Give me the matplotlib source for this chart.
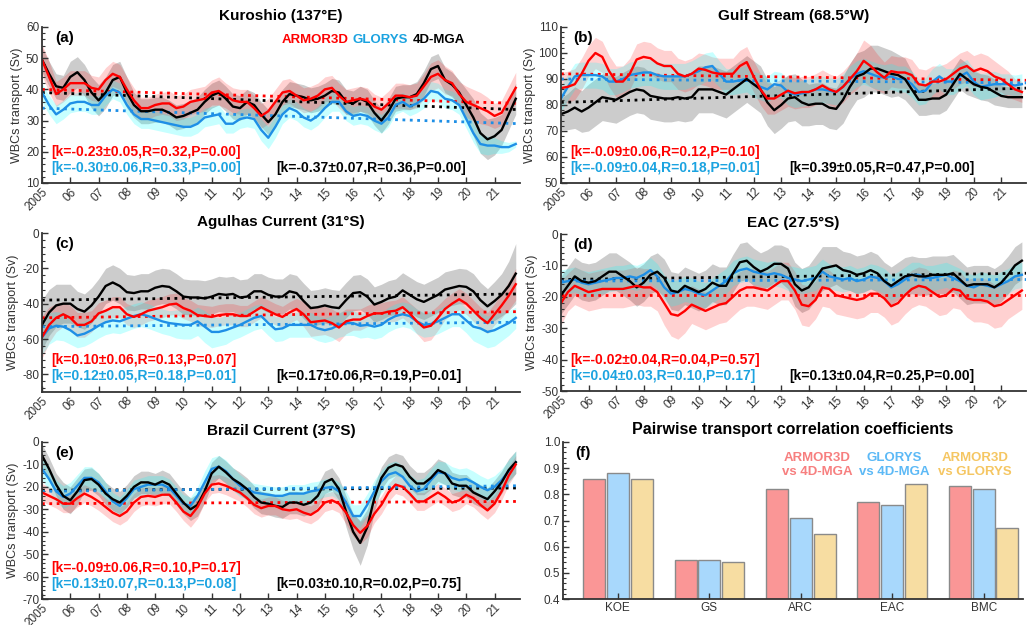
import numpy as np
import matplotlib
matplotlib.use("Agg")
from matplotlib import pyplot as plt
from matplotlib.ticker import MultipleLocator

plt.rcParams['font.family'] = ['Liberation Sans', 'DejaVu Sans']
plt.rcParams['axes.unicode_minus'] = False

# quarterly time axis, 2005.00 .. 2021.75
t = np.arange(2005, 2021.76, 0.25)
years = list(range(2005, 2022))
year_labels = ['2005'] + ['%02d' % (y - 2000) for y in years[1:]]

# ---------------- (a) Kuroshio ----------------
kuro_armor = [49.5, 44, 38.5, 40, 42, 42, 42, 40.5,
              40, 43, 45, 44, 40, 36.5, 34, 34,
              35, 35.5, 35.5, 34, 34.5, 36, 36.5, 37,
              39, 39.5, 38, 36.5, 36, 36, 34, 31.5,
              33, 36, 39, 39.5, 38, 36.5, 37, 38,
              40, 40.5, 38, 36, 36.5, 37, 36.5, 34.5,
              33.5, 35.5, 38, 38, 37.5, 38, 41, 44,
              45, 43, 42, 38.5, 36, 35, 34, 33,
              31.5, 32.5, 36.5, 40.5]
kuro_glorys = [39, 35, 32, 33.5, 35.5, 36, 36, 35,
               35, 38, 40, 39, 35, 32, 30.5, 30.5,
               30, 29.5, 29, 28.5, 28, 28, 29, 31,
               31.5, 32, 29, 29, 30.5, 31, 30.5, 27,
               24.5, 28, 32, 34, 33, 31, 30, 31.5,
               34, 36, 36, 33, 31.5, 32, 31.5, 30,
               29, 31, 35, 36, 34.5, 35.5, 37, 39.5,
               39, 37, 36.5, 35, 30.5, 26, 22.5, 22,
               22, 21.5, 21.5, 22.5]
kuro_mga = [49.5, 45, 41, 40.5, 44, 45.5, 43, 39,
            36.5, 39, 43, 44, 39, 35, 33, 33,
            33.5, 33.5, 32.5, 31, 31.5, 32.5, 33.5, 36,
            38, 39, 37, 34.5, 34, 36, 35, 32,
            29.5, 32, 36, 38.5, 38, 37.5, 36.5, 37,
            38, 39.5, 39, 36, 35.5, 37, 36, 32.5,
            30, 33, 37, 37.5, 37.5, 38.5, 42, 46.5,
            47.5, 43, 41.5, 39, 35, 31, 26, 24,
            25, 27, 32, 37]
kuro_armor_sd = [5, 5, 4, 4, 4, 4, 4, 4,
                 4, 4, 4, 4, 4, 4, 3.5, 3.5,
                 3.5, 3.5, 4, 4, 4, 4, 4, 4,
                 4, 4.5, 4, 4, 4, 4, 4, 4,
                 4, 4, 4, 4, 4, 4, 4, 4,
                 4, 4, 4, 4, 4, 4, 4, 4,
                 4, 4, 4, 4, 4, 4, 4, 4.5,
                 4.5, 4.5, 4, 4, 5, 5, 5, 4.5,
                 4, 4, 4.5, 5]
kuro_glorys_sd = [3, 3, 3, 3, 3, 3, 3, 3,
                  3, 3, 3, 3, 3, 3, 3, 3,
                  3, 3, 3, 3, 3, 3, 3, 3,
                  3, 3, 3, 3, 3, 3, 3, 3.5,
                  3.5, 3.5, 3, 3, 3, 3, 3, 3,
                  3, 3, 3, 3, 3, 3, 3, 3,
                  3, 3, 3, 3, 3, 3, 3, 3,
                  3, 3, 3, 3, 3, 3, 3, 3,
                  2.5, 2, 1.5, 1]
kuro_mga_sd = [4, 4, 4, 4, 5, 5, 5, 5,
               5, 5, 5, 5, 5, 4, 4, 4,
               4, 4, 4, 4, 4, 4, 4, 4,
               4, 4, 4, 4, 4, 4, 4, 4,
               4, 4, 4, 4, 4, 4, 4, 4,
               4, 4, 4, 4, 4, 4, 4, 4,
               4, 4, 4, 4, 4, 4, 4, 4,
               4, 4, 4, 4, 5, 6, 6.5, 6.5,
               6, 5, 5, 5]

# ---------------- (b) Gulf Stream ----------------
gs_armor = [86.5, 87, 88, 92, 97, 100, 98.5, 93,
            89, 89, 92, 97.5, 98.5, 98, 96, 95,
            95, 92, 91, 92, 94, 93.5, 92.5, 92,
            92, 92, 95, 96.5, 91, 86, 82.5, 82.5,
            84, 85.5, 84.5, 85, 85, 86, 87.5, 86,
            85, 87, 90, 93, 97, 95, 92.5, 90.5,
            93, 92.5, 92.5, 91.5, 88, 87.5, 89, 89,
            90, 92, 94, 95, 93, 94, 93, 91,
            90, 88, 86, 85]
gs_glorys = [82.5, 87, 91, 91.5, 91.5, 91.5, 91, 89,
             89, 90, 91.5, 92, 92.5, 92.5, 91.5, 91,
             91, 91, 91, 92, 93, 94.5, 95, 92,
             89, 89, 89.5, 90, 88, 87, 86, 88,
             87.5, 85, 84, 84.5, 85, 86, 86, 85.5,
             85, 87, 90, 92, 93, 92, 91, 90.5,
             91, 90, 90, 88, 85, 85.5, 89, 91,
             89, 89, 91, 92.5, 89, 87, 87.5, 88,
             88, 88, 87.5, 88]
gs_mga = [76.5, 77.5, 79, 77.5, 79, 81, 83, 82.5,
          82, 83.5, 85, 86, 85.5, 83.5, 83, 82.5,
          82.5, 83, 82.5, 83, 86, 86, 86, 85,
          84, 86, 88, 90, 88, 86, 81, 78,
          80, 82.5, 83, 81, 80, 80.5, 80.5, 79,
          78.5, 82, 87, 91, 92, 94, 94, 93,
          92, 91.5, 90, 86, 82, 82, 82.5, 82.5,
          84, 88, 92, 90, 88, 87, 86.5, 85,
          83.5, 83, 83, 83]
gs_armor_sd = [6, 6, 6, 6, 6, 6, 6, 6,
               6, 6, 6, 6, 6, 6, 6, 6,
               6, 6, 6, 6, 6, 6, 6, 6,
               6, 6, 6, 6, 6, 6, 6, 6,
               6, 6, 6, 6, 6, 6, 6, 6,
               6, 6, 6, 7, 8, 8, 7, 6,
               6, 6, 6, 6, 6, 6, 6, 6,
               6, 6, 6, 6, 6, 6, 6, 6,
               5, 5, 4, 4]
gs_glorys_sd = [5, 5, 5, 5, 5, 5, 5, 5,
                5, 5, 5, 5, 5, 5, 5, 5,
                5, 5, 5, 5, 5.5, 5.5, 5.5, 5,
                5, 5, 5, 5, 5, 5, 5, 5,
                5, 5, 5, 5, 5, 5, 5, 5,
                5, 5, 5, 5, 5, 5, 5, 5,
                5, 5, 5, 5, 5, 5, 5, 5,
                5, 5, 5, 5, 5, 5, 5, 5,
                4, 4, 4, 4]
gs_mga_sd = [6, 7, 8, 8, 9, 9, 9, 9,
             9, 9, 9, 9, 9, 9, 9, 9,
             9, 9, 9, 9, 9, 9, 9, 9,
             9, 9, 9, 9, 9, 9, 9, 9,
             9, 9, 9, 9, 8, 8, 8, 8,
             8, 9, 9, 9, 9, 9, 9, 9,
             9, 8, 8, 7, 6, 6, 6, 6,
             6, 6, 6, 6, 5, 5, 5, 5,
             4, 4, 4, 4]

# ---------------- (c) Agulhas Current ----------------
ag_armor = [-59, -52, -48, -46, -48, -52, -52, -50,
            -45.5, -44, -42, -42, -46, -47.5, -46, -44,
            -43, -42, -40.5, -40, -42.5, -44, -46.5, -47,
            -47.5, -46.5, -46, -46, -47, -47, -44.5, -42,
            -44, -46, -47.5, -45, -43, -46, -50.5, -50,
            -49.5, -51, -53.5, -50, -49, -49, -47, -45.5,
            -45.5, -44.5, -44, -42, -45.5, -50, -53.5, -52.5,
            -48, -43, -40, -37.5, -40, -44, -48, -51,
            -46, -41, -35.5, -29]
ag_glorys = [-59, -54, -52.5, -53, -55, -58, -57, -55,
             -52.5, -50.5, -49.5, -50, -48.5, -47, -46, -47,
             -48.5, -50, -51, -51.5, -52, -52, -50, -53,
             -56, -56, -55, -53.5, -52, -50, -48, -47,
             -51, -54.5, -54, -52, -52, -52, -52, -54,
             -55, -54, -52, -51, -51, -52.5, -52, -53,
             -52, -49, -47, -46, -47, -50, -52, -51.5,
             -50, -48, -46, -46, -49.5, -53, -54, -56,
             -55, -53, -51, -48]
ag_mga = [-52, -45, -41, -40, -40, -43, -44.5, -41,
          -36, -30, -28, -30, -33.5, -34, -33, -33,
          -31, -30, -30.5, -33, -36, -36.5, -36.5, -37,
          -36, -34.5, -35, -34.5, -36.5, -36, -33, -33,
          -35, -36, -36, -33, -34, -38.5, -42.5, -42,
          -41, -42, -42.5, -38, -34, -33.5, -36, -40.5,
          -39, -37, -36, -32.5, -35, -37.5, -39, -37,
          -35, -32, -31, -30, -30.5, -33, -38, -41.5,
          -38.5, -35, -30, -23]
ag_armor_sd = [12, 10, 8, 7, 7, 7, 7, 6,
               6, 6, 6, 6, 6, 6, 6, 6,
               6, 6, 6, 6, 6, 6, 6, 6,
               6, 6, 6, 6, 6, 6, 6, 6,
               6, 6, 6, 6, 6, 7, 8, 8,
               8, 8, 8, 7, 6, 6, 6, 6,
               6, 6, 6, 6, 6, 7, 8, 8,
               7, 6, 6, 6, 6, 6, 6, 6,
               6, 7, 8, 9]
ag_glorys_sd = [10, 9, 8, 8, 8, 7, 7, 7,
                7, 7, 7, 7, 7, 7, 7, 7,
                7, 7, 7, 8, 8, 8, 8, 9,
                9, 8, 8, 7, 7, 7, 7, 7,
                7, 7, 7, 7, 7, 7, 7, 7,
                7, 7, 7, 7, 7, 7, 7, 7,
                7, 7, 7, 7, 7, 7, 7, 7,
                7, 7, 7, 7, 7, 8, 9, 9,
                9, 8, 7, 6]
ag_mga_sd = [14, 13, 12, 11, 11, 10, 10, 10,
             10, 10, 10, 10, 10, 10, 10, 10,
             10, 10, 10, 10, 10, 10, 10, 10,
             10, 10, 10, 10, 10, 10, 10, 10,
             10, 10, 10, 10, 10, 10, 10, 10,
             10, 10, 10, 10, 10, 10, 10, 10,
             10, 10, 10, 10, 10, 10, 10, 10,
             10, 10, 10, 10, 10, 10, 10, 10,
             11, 12, 14, 17]

# ---------------- (d) EAC ----------------
eac_armor = [-22, -18.5, -16.5, -17.5, -18.5, -18, -17.5, -17.5,
             -17.5, -17.5, -17, -16.5, -17, -17, -18.5, -22,
             -25.5, -26, -24.5, -22.5, -23.5, -24.5, -23.5, -22.5,
             -22, -20, -18, -17, -17, -17.5, -18, -16.5,
             -15, -15, -18, -22.5, -23, -21, -17, -17.5,
             -19.5, -20, -20.5, -21, -20.5, -19, -19, -20.5,
             -23, -22, -19.5, -17.5, -16.5, -17, -18.5, -20,
             -19.5, -17.5, -18, -20.5, -21, -21, -21.5, -23,
             -22.5, -21, -19.5, -18]
eac_glorys = [-15.5, -15, -14.5, -15.5, -16, -15.5, -15, -14.5,
              -14, -14, -13.5, -14, -13, -11.5, -13.5, -17,
              -19, -18.5, -17.5, -18, -19, -19.5, -18, -16.5,
              -15, -12.5, -11.5, -11, -12, -12.5, -13, -12.5,
              -13, -14, -14.5, -15, -14.5, -14, -12, -13.5,
              -14, -14.5, -14, -15, -14.5, -13.5, -14, -15,
              -17, -16, -14.5, -13, -13, -14, -14, -13.5,
              -13, -14, -15, -16.5, -17, -16, -16.5, -17,
              -16, -15, -13.5, -13]
eac_mga = [-19.5, -16.5, -13.5, -15, -15.5, -15, -13.5, -12,
           -12, -13.5, -15, -17, -15.5, -13, -12, -14,
           -18, -18.5, -16.5, -17.5, -18.5, -17.5, -15.5, -16.5,
           -16.5, -12.5, -9, -8.5, -10.5, -12, -11, -9.5,
           -9.5, -11, -16, -18, -17, -14, -11, -10.5,
           -10, -11.5, -12, -13, -12.5, -11.5, -12.5, -15,
           -16.5, -15, -13.5, -13, -13.5, -13.5, -13, -13,
           -13, -12.5, -14.5, -16.5, -16, -16, -16, -17,
           -15.5, -13, -10, -8.5]
eac_armor_sd = [7, 6, 6, 6, 6, 6, 6, 6,
                6, 6, 6, 6, 6, 6, 6, 7,
                7, 7.5, 7, 6, 6, 6, 6, 6,
                6, 6, 6, 6, 6, 6, 6, 6,
                6, 6, 6, 6.5, 6.5, 6, 6, 6,
                6, 6, 6, 6, 6, 6, 6, 6,
                6, 6, 6, 6, 6, 6, 6, 6,
                6, 6, 6, 6, 7, 7, 7, 7,
                7, 6, 6, 6]
eac_glorys_sd = [4, 4, 4, 4, 4, 4, 4, 4,
                 4, 4, 4, 4, 4, 4, 4, 4,
                 4, 4, 4, 4, 4, 4, 4, 4,
                 4, 4, 4, 4, 4, 4, 4, 4,
                 4, 4, 4, 4, 4, 4, 4, 4,
                 4, 4, 4, 4, 4, 4, 4, 4,
                 4, 4, 4, 4, 4, 4, 4, 4,
                 4, 4, 4, 4, 4, 4, 4, 4,
                 4, 4, 4, 4]
eac_mga_sd = [6, 6, 6, 6, 6, 6, 6, 6,
              6, 6, 6, 6, 6, 6, 6, 6,
              6, 6, 6, 6, 6, 6, 6, 6,
              6, 6, 6, 6, 6, 6, 6, 6,
              6, 6.5, 7, 7, 7, 7, 7, 6.5,
              6, 6, 6, 6, 6, 6, 6, 6,
              6, 6, 6, 6, 6, 6, 6, 6,
              6, 6, 6, 6, 6, 6, 6, 6,
              6, 6, 6, 6]

# ---------------- (e) Brazil Current ----------------
bc_armor = [-22.5, -24, -25.5, -27.5, -27.5, -25, -23, -24.5,
            -26.5, -29, -31.5, -33, -31, -27, -24.5, -24,
            -24.5, -23.5, -23.5, -27, -31, -33, -29, -23,
            -19, -18.5, -19.5, -21, -22.5, -25, -28, -29.5,
            -28.5, -28.5, -30, -30.5, -30, -31.5, -32.5, -30.5,
            -27, -26, -27.5, -31.5, -37, -40.5, -37.5, -32,
            -28, -22.5, -19, -20, -23, -26.5, -26.5, -24.5,
            -22.5, -24.5, -27, -26, -23.5, -25, -28, -30.5,
            -27.5, -22, -15, -10]
bc_glorys = [-12, -16.5, -22, -24.5, -23, -19.5, -16, -16,
             -18, -22, -26.5, -28.5, -25, -21, -20, -19,
             -19, -19, -20.5, -24, -27.5, -28.5, -24, -18,
             -12, -11, -13, -16.5, -19.5, -21, -22.5, -23,
             -23.5, -24, -24, -23, -23, -23, -22, -21.5,
             -20.5, -20, -22, -27, -33, -33, -28, -22,
             -17.5, -14.5, -13.5, -15.5, -19.5, -22, -21, -17,
             -13.5, -14, -16, -17, -16.5, -18, -20, -21.5,
             -20, -17, -13, -9]
bc_mga = [-6, -12, -19, -24, -26, -22, -17, -16.5,
          -19, -23, -25.5, -27, -24, -20, -18, -18,
          -19, -17.5, -19, -23, -27, -30, -28, -22,
          -14, -11, -13.5, -16.5, -18.5, -21, -24.5, -27,
          -27.5, -28.5, -29, -27, -27, -28, -27, -24,
          -18, -16.5, -21, -31, -40, -45, -38, -25,
          -16, -11.5, -10, -11, -15.5, -18.5, -18.5, -16,
          -12.5, -14, -18.5, -19.5, -19.5, -22.5, -24, -25.5,
          -22, -18, -12.5, -9]
bc_armor_sd = [4, 4, 4, 4, 4, 4, 4, 4,
               4, 4, 4, 4, 4, 4, 4, 4,
               4, 4, 4, 4, 4, 5, 5, 4,
               4, 4, 4, 4, 4, 4, 4, 4,
               4, 4, 4, 4, 4, 4, 4, 4,
               4, 4, 4, 5, 5, 5, 5, 4,
               4, 4, 4, 4, 4, 4, 4, 4,
               4, 4, 4, 4, 4, 4, 4, 4,
               4, 4, 4, 4]
bc_glorys_sd = [5, 5, 5, 5, 5, 5, 5, 5,
                4, 4, 4, 4, 4, 4, 4, 4,
                4, 4, 4, 4, 4, 4, 4, 5,
                5, 5, 5, 5, 5, 4, 4, 4,
                4, 4, 4, 4, 4, 4, 4, 4,
                4, 4, 4, 5, 5, 5, 5, 5,
                5, 5, 5, 5, 5, 5, 5, 5,
                5, 5, 5, 5, 5, 5, 5, 5,
                5, 5, 5, 5]
bc_mga_sd = [5, 5, 5, 6, 6, 6, 5, 5,
             5, 5, 5, 5, 5, 5, 5, 5,
             5, 5, 5, 5, 5, 5, 5, 5,
             5, 5, 5, 5, 5, 5, 5, 5,
             5, 5, 5, 5, 5, 5, 5, 5,
             5, 5, 5, 7, 8, 10, 8, 6,
             5, 5, 5, 5, 5, 5, 5, 5,
             5, 5, 5, 5, 5, 5, 5, 5,
             5, 5, 5, 5]

# trend lines (value at 2005 and at end)
trend_years = [2005, 2021.9]
kuro_trend = {'armor': [40, 35.5], 'glorys': [34, 29], 'mga': [39, 33.5]}
gs_trend = {'armor': [92, 89.5], 'glorys': [90, 88.5], 'mga': [81, 86.5]}
ag_trend = {'armor': [-48, -44.5], 'glorys': [-53, -50.5], 'mga': [-38, -34.5]}
eac_trend = {'armor': [-19.5, -19.5], 'glorys': [-15, -14.5], 'mga': [-14.5, -12.5]}
bc_trend = {'armor': [-27.5, -26.5], 'glorys': [-22, -19.5], 'mga': [-21.5, -20.5]}

# statistics text
kuro_stats = ['[k=-0.23\u00b10.05,R=0.32,P=0.00]', '[k=-0.30\u00b10.06,R=0.33,P=0.00]', '[k=-0.37\u00b10.07,R=0.36,P=0.00]']
gs_stats = ['[k=-0.09\u00b10.06,R=0.12,P=0.10]', '[k=-0.09\u00b10.04,R=0.18,P=0.01]', '[k=0.39\u00b10.05,R=0.47,P=0.00]']
ag_stats = ['[k=0.10\u00b10.06,R=0.13,P=0.07]', '[k=0.12\u00b10.05,R=0.18,P=0.01]', '[k=0.17\u00b10.06,R=0.19,P=0.01]']
eac_stats = ['[k=-0.02\u00b10.04,R=0.04,P=0.57]', '[k=0.04\u00b10.03,R=0.10,P=0.17]', '[k=0.13\u00b10.04,R=0.25,P=0.00]']
bc_stats = ['[k=-0.09\u00b10.06,R=0.10,P=0.17]', '[k=0.13\u00b10.07,R=0.13,P=0.08]', '[k=0.03\u00b10.10,R=0.02,P=0.75]']

# ---------------- (f) correlations ----------------
regions = ['KOE', 'GS', 'ARC', 'EAC', 'BMC']
r_armor_mga = [0.86, 0.55, 0.82, 0.77, 0.83]
r_glorys_mga = [0.88, 0.55, 0.71, 0.76, 0.82]
r_armor_glorys = [0.86, 0.54, 0.65, 0.84, 0.67]

RED = '#FF0000'
BLUE = '#1E8FE6'
BLUE_TXT = '#1BA3E0'
AXC = '#333333'

W, H = 1028, 625
fig = plt.figure(figsize=(W / 100, H / 100), dpi=100)


def px_axes(x0, y0, x1, y1):
    return fig.add_axes([x0 / W, 1 - y1 / H, (x1 - x0) / W, (y1 - y0) / H])


def style(ax):
    for s in ['top', 'right']:
        ax.spines[s].set_visible(False)
    for s in ['left', 'bottom']:
        ax.spines[s].set_color(AXC)
        ax.spines[s].set_linewidth(1.3)
    ax.tick_params(direction='in', colors=AXC, labelsize=8.5, width=1, length=4, pad=2)
    ax.tick_params(which='minor', direction='in', colors=AXC, width=0.8, length=2.5)


def ts_panel(ax, title, label, armor, glorys, mga, sa, sg, sm, trend, stats,
             ylim, major, minor, legend=False):
    armor, glorys, mga = np.array(armor), np.array(glorys), np.array(mga)
    sa, sg, sm = np.array(sa), np.array(sg), np.array(sm)
    ax.fill_between(t, mga - sm, mga + sm, color='black', alpha=0.2, lw=0)
    ax.fill_between(t, armor - sa, armor + sa, color=RED, alpha=0.18, lw=0)
    ax.fill_between(t, glorys - sg, glorys + sg, color='#00FFFF', alpha=0.22, lw=0)
    ax.plot(trend_years, trend['mga'], ':', color='black', lw=2)
    ax.plot(trend_years, trend['armor'], ':', color=RED, lw=2)
    ax.plot(trend_years, trend['glorys'], ':', color=BLUE, lw=2)
    ax.plot(t, glorys, color=BLUE, lw=1.7)
    ax.plot(t, mga, color='black', lw=1.7)
    ax.plot(t, armor, color=RED, lw=1.7)
    ax.set_xlim(2005, 2021.9)
    ax.set_ylim(*ylim)
    ax.set_xticks(years)
    ax.set_xticklabels(year_labels, rotation=45, ha='right', rotation_mode='anchor')
    ax.yaxis.set_major_locator(MultipleLocator(major))
    ax.yaxis.set_minor_locator(MultipleLocator(minor))
    style(ax)
    ax.set_ylabel('WBCs transport (Sv)', fontsize=9, color=AXC, labelpad=2)
    ax.set_title(title, fontsize=11, fontweight='bold', pad=5)
    ax.text(0.027, 0.93, label, transform=ax.transAxes, fontsize=11,
            fontweight='bold', va='center')
    ax.text(0.02, 0.2, stats[0], transform=ax.transAxes, fontsize=10,
            fontweight='bold', color=RED, va='center')
    ax.text(0.02, 0.098, stats[1], transform=ax.transAxes, fontsize=10,
            fontweight='bold', color=BLUE_TXT, va='center')
    ax.text(0.49, 0.098, stats[2], transform=ax.transAxes, fontsize=10,
            fontweight='bold', color='black', va='center')
    if legend:
        ax.text(0.502, 0.915, 'ARMOR3D', transform=ax.transAxes, fontsize=9.5,
                fontweight='bold', color=RED, va='center')
        ax.text(0.649, 0.915, 'GLORYS', transform=ax.transAxes, fontsize=9.5,
                fontweight='bold', color=BLUE_TXT, va='center')
        ax.text(0.776, 0.915, '4D-MGA', transform=ax.transAxes, fontsize=9.5,
                fontweight='bold', color='black', va='center')


ax_a = px_axes(42, 27, 520, 183)
ts_panel(ax_a, 'Kuroshio (137\u00b0E)', '(a)', kuro_armor, kuro_glorys, kuro_mga,
         kuro_armor_sd, kuro_glorys_sd, kuro_mga_sd, kuro_trend, kuro_stats,
         (10, 60), 10, 2, legend=True)

ax_b = px_axes(561, 27, 1026, 183)
ts_panel(ax_b, 'Gulf Stream (68.5\u00b0W)', '(b)', gs_armor, gs_glorys, gs_mga,
         gs_armor_sd, gs_glorys_sd, gs_mga_sd, gs_trend, gs_stats,
         (50, 110), 10, 2)

ax_c = px_axes(42, 233, 520, 392)
ts_panel(ax_c, 'Agulhas Current (31\u00b0S)', '(c)', ag_armor, ag_glorys, ag_mga,
         ag_armor_sd, ag_glorys_sd, ag_mga_sd, ag_trend, ag_stats,
         (-90, 0), 20, 4)

ax_d = px_axes(561, 234, 1026, 391)
ts_panel(ax_d, 'EAC (27.5\u00b0S)', '(d)', eac_armor, eac_glorys, eac_mga,
         eac_armor_sd, eac_glorys_sd, eac_mga_sd, eac_trend, eac_stats,
         (-50, 0), 10, 2)

ax_e = px_axes(42, 442, 520, 599)
ts_panel(ax_e, 'Brazil Current (37\u00b0S)', '(e)', bc_armor, bc_glorys, bc_mga,
         bc_armor_sd, bc_glorys_sd, bc_mga_sd, bc_trend, bc_stats,
         (-70, 0), 10, 2)

# bar panel
ax_f = px_axes(563, 442, 1023, 599)
x = np.arange(1, len(regions) + 1)
bw = 0.24
ax_f.bar(x - 0.26, r_armor_mga, bw, color='#FA9696', edgecolor='#8a8a8a', lw=1)
ax_f.bar(x, r_glorys_mga, bw, color='#A8D8FC', edgecolor='#8a8a8a', lw=1)
ax_f.bar(x + 0.26, r_armor_glorys, bw, color='#F7DDA2', edgecolor='#8a8a8a', lw=1)
ax_f.set_xlim(0.4, 5.43)
ax_f.set_ylim(0.4, 1)
ax_f.set_xticks(x)
ax_f.set_xticklabels(regions)
ax_f.yaxis.set_major_locator(MultipleLocator(0.1))
ax_f.yaxis.set_minor_locator(MultipleLocator(0.02))
style(ax_f)
ax_f.set_title('Pairwise transport correlation coefficients', fontsize=11.5,
               fontweight='bold', pad=6)
ax_f.text(0.027, 0.93, '(f)', transform=ax_f.transAxes, fontsize=11,
          fontweight='bold', va='center')
ax_f.text(0.552, 0.855, 'ARMOR3D\nvs 4D-MGA', transform=ax_f.transAxes, fontsize=9.5,
          fontweight='bold', color='#F77F7F', ha='center', va='center', linespacing=1.25)
ax_f.text(0.721, 0.855, 'GLORYS\nvs 4D-MGA', transform=ax_f.transAxes, fontsize=9.5,
          fontweight='bold', color='#5CB9F6', ha='center', va='center', linespacing=1.25)
ax_f.text(0.896, 0.855, 'ARMOR3D\nvs GLORYS', transform=ax_f.transAxes, fontsize=9.5,
          fontweight='bold', color='#F5C662', ha='center', va='center', linespacing=1.25)

fig.savefig('out.png', dpi=100)
